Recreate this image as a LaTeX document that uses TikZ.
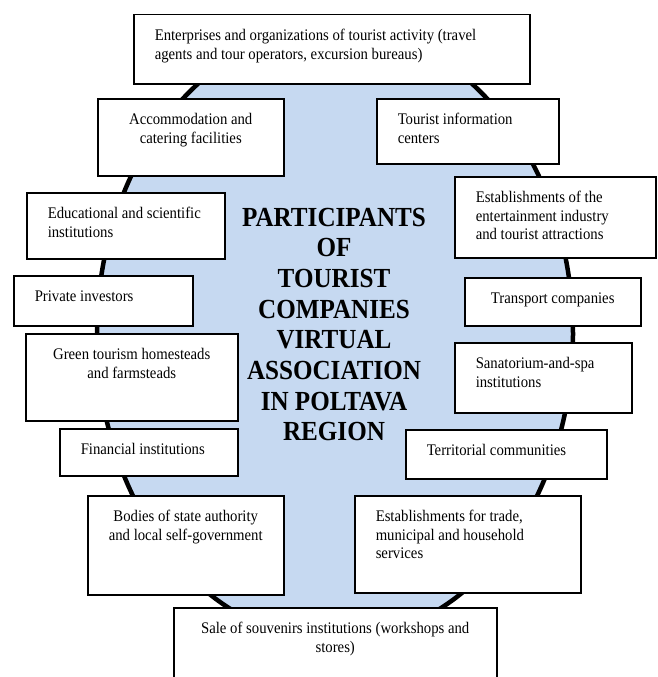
\documentclass[tikz,border=0pt]{standalone}
\usepackage{fontspec}
\setmainfont{Liberation Serif}[FakeStretch=0.91]
\definecolor{ovalfill}{RGB}{198,217,241}
\newcommand{\bxt}[4]{\parbox[c][#2][t]{#1}{\fontsize{16.2}{18.4}\selectfont
  \vspace*{\dimexpr26pt-\ht\strutbox\relax}%
  \ifx c#3\centering\else\raggedright\leftskip=21pt\fi
  \strut #4\par}}
\begin{document}
\begin{tikzpicture}[x=1pt,y=-1pt,
  box/.style={draw=black, line width=1.5pt, fill=white, inner sep=0pt, anchor=north west},
  oval/.style={draw=black, line width=4.5pt, fill=ovalfill},
  ttl/.style={align=center, inner sep=0pt, font=\fontsize{27.6}{30.7}\selectfont\bfseries}]
\useasboundingbox (0,0) rectangle (657,677);
\draw[oval] (335,334) ellipse [x radius=238, y radius=306];
\node[ttl] (title) at (334,324.5) {PARTICIPANTS\\OF\\TOURIST\\COMPANIES\\VIRTUAL\\ASSOCIATION\\IN POLTAVA\\REGION};
\node[box] (top) at (133,14) {\bxt{396pt}{69pt}{l}{Enterprises and organizations of tourist activity (travel\\agents and tour operators, excursion bureaus)}};
\node[box] (acc) at (97,98) {\bxt{186pt}{77pt}{c}{Accommodation and\\catering facilities}};
\node[box] (tic) at (376,98) {\bxt{182pt}{65pt}{l}{Tourist information\\centers}};
\node[box] (ent) at (454,176) {\bxt{201pt}{81pt}{l}{Establishments of the\\entertainment industry\\and tourist attractions}};
\node[box] (edu) at (26,192) {\bxt{198pt}{66pt}{l}{Educational and scientific\\institutions}};
\node[box] (inv) at (13,275) {\bxt{179pt}{50pt}{l}{Private investors}};
\node[box] (trn) at (464,277) {\bxt{176pt}{48pt}{c}{Transport companies}};
\node[box] (grn) at (25,333) {\bxt{212pt}{87pt}{c}{Green tourism homesteads\\and farmsteads}};
\node[box] (spa) at (454,342) {\bxt{177pt}{70pt}{l}{Sanatorium-and-spa\\institutions}};
\node[box] (fin) at (59,428) {\bxt{178pt}{47pt}{l}{Financial institutions}};
\node[box] (ter) at (405,429) {\bxt{201pt}{49pt}{l}{Territorial communities}};
\node[box] (gov) at (87,495) {\bxt{196pt}{99pt}{c}{Bodies of state authority\\and local self-government}};
\node[box] (trd) at (354,495) {\bxt{226pt}{97pt}{l}{Establishments for trade,\\municipal and household\\services}};
\node[box] (sou) at (173,607) {\bxt{323pt}{73pt}{c}{Sale of souvenirs institutions (workshops and\\stores)}};
\end{tikzpicture}
\end{document}
